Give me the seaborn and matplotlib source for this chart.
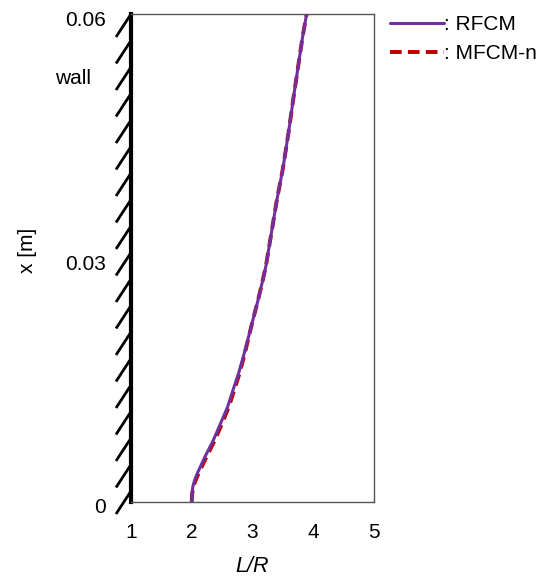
import numpy as np
import pandas as pd
import matplotlib
matplotlib.use("Agg")
import matplotlib.pyplot as plt
import matplotlib.transforms as mtransforms
import seaborn as sns

# distance from wall [m] and L/R
x_pos = [0.0, 0.0005, 0.001, 0.0019, 0.0027, 0.0035, 0.0056, 0.0076, 0.0097,
         0.0117, 0.0138, 0.0158, 0.0179, 0.0199, 0.0225, 0.0248, 0.027, 0.029,
         0.0335, 0.0371, 0.041, 0.0453, 0.0495, 0.0535, 0.057, 0.06]
lr_rfcm = [2.0, 2.001, 2.004, 2.018, 2.048, 2.09, 2.22, 2.355, 2.476,
           2.59, 2.68, 2.77, 2.85, 2.92, 3.01, 3.09, 3.16, 3.22,
           3.32, 3.40, 3.50, 3.59, 3.67, 3.75, 3.82, 3.89]
lr_mfcm = [2.0, 2.002, 2.007, 2.026, 2.065, 2.11, 2.245, 2.38, 2.50,
           2.61, 2.70, 2.785, 2.86, 2.925, 3.01, 3.09, 3.16, 3.22,
           3.32, 3.40, 3.50, 3.59, 3.67, 3.75, 3.82, 3.89]

df = pd.DataFrame({
    "x": x_pos * 2,
    "LR": lr_rfcm + lr_mfcm,
    "model": ["RFCM"] * len(x_pos) + ["MFCM-n"] * len(x_pos),
})

sns.set_style("white")
plt.rcParams["font.family"] = ["Liberation Sans", "DejaVu Sans"]
plt.rcParams["text.color"] = "black"
plt.rcParams["axes.labelcolor"] = "black"

fig = plt.figure(figsize=(5.45, 5.77), dpi=100)
ax = fig.add_axes([0.2404, 0.130, 0.4459, 0.8457])

sns.lineplot(data=df[df.model == "MFCM-n"], x="LR", y="x", sort=False,
             color="#C00000", lw=2.8, ls=(0, (3, 1.6)), ax=ax, label=": MFCM-n",
             estimator=None)
sns.lineplot(data=df[df.model == "RFCM"], x="LR", y="x", sort=False,
             color="#7030A0", lw=2.2, ax=ax, label=": RFCM", estimator=None)

ax.set_xlim(1, 5)
ax.set_ylim(0, 0.06)
ax.set_xticks([1, 2, 3, 4, 5])
ax.set_xticklabels(["1", "2", "3", "4", "5"])
ax.set_yticks([0, 0.03, 0.06])
ax.set_yticklabels(["0", "0.03", "0.06"])
ax.tick_params(axis="both", direction="in", length=5, width=1, color="#555555",
               labelsize=15, labelcolor="black")
ax.tick_params(axis="x", pad=15)
ax.tick_params(axis="y", pad=18)

# y tick labels sit a few pixels below their ticks in the reference
shift = mtransforms.ScaledTranslation(0, -4 / 100, fig.dpi_scale_trans)
for lab in ax.get_yticklabels():
    lab.set_transform(lab.get_transform() + shift)

for side in ["top", "right", "bottom"]:
    ax.spines[side].set_color("#555555")
    ax.spines[side].set_linewidth(1.0)
ax.spines["left"].set_color("black")
ax.spines["left"].set_linewidth(3.0)

ax.set_xlabel("L/R", fontsize=15.5, style="italic", labelpad=10)
ax.set_ylabel("x [m]", fontsize=15)
ax.yaxis.set_label_coords(-0.385, 0.515)

# wall hatching
hw = 15 / 243
hh = 23 / 488
for k in range(19):
    top = 1.0 - k * 26.5 / 488
    ax.plot([0, -hw], [top, top - hh], transform=ax.transAxes, color="black",
            lw=2.0, clip_on=False, solid_capstyle="butt")

ax.text(-0.237, 0.867, "wall", transform=ax.transAxes, fontsize=15,
        ha="center", va="center")

handles, labels = ax.get_legend_handles_labels()
order = [1, 0]
ax.legend([handles[i] for i in order], [labels[i] for i in order],
          loc="upper left", bbox_to_anchor=(1.03, 1.015), frameon=False,
          handlelength=2.6, handletextpad=0.0, fontsize=15,
          borderaxespad=0, labelspacing=0.5)

fig.savefig("out.png", dpi=100)
